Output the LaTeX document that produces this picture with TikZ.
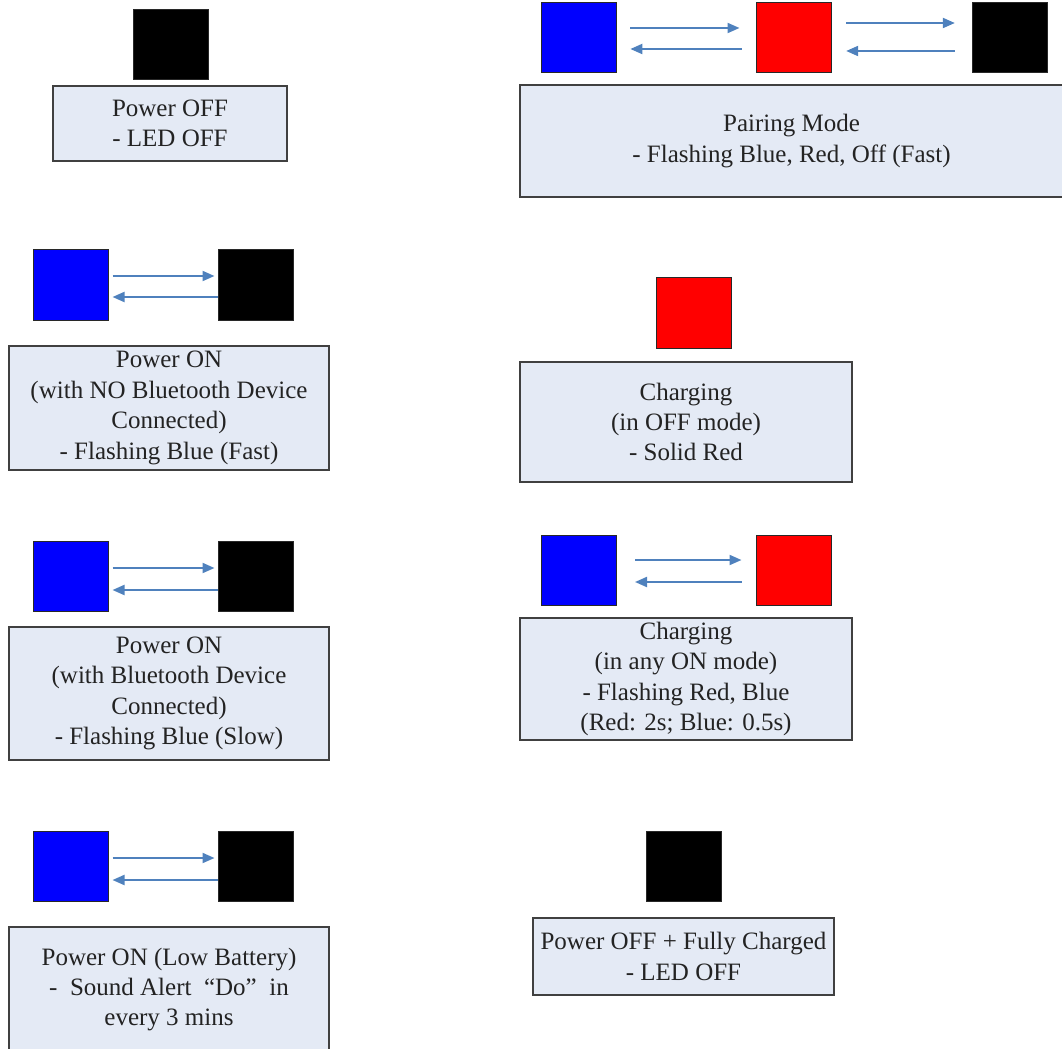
\documentclass[tikz,border=0pt]{standalone}
\usepackage{fontspec}
\setmainfont{Liberation Serif}
\usetikzlibrary{arrows.meta,calc}

\tikzset{
  led/.style={draw={rgb, 255:red, 40; green, 40; blue, 40}, line width=0.75pt, minimum width=56.25pt, minimum height=52.5pt, inner sep=0pt},
  statebox/.style={draw={rgb, 255:red, 64; green, 64; blue, 64}, line width=1.5pt, fill={rgb, 255:red, 228; green, 234; blue, 245}, align=center, inner sep=0pt, text={rgb, 255:red, 35; green, 35; blue, 35}, font=\fontsize{18.75pt}{22.8pt}\selectfont},
  blink/.style={draw={rgb, 255:red, 79; green, 129; blue, 189}, line width=1.5pt, -{Triangle[length=9pt,width=7.5pt]}},
}

\begin{document}
\begin{tikzpicture}[x=0.75pt,y=0.75pt,yscale=-1,xscale=1]
    \useasboundingbox (0,0) rectangle (1062,1048);

    %Shape: LED squares
    \node [led, fill=black] (k0) at (170.5,45) {};
    \node [led, fill=blue] (b1) at (579,38) {};
    \node [led, fill=red] (r1) at (793.5,38) {};
    \node [led, fill=black] (k1) at (1009.5,38) {};
    \node [led, fill=blue] (b2) at (70.5,285) {};
    \node [led, fill=black] (k2) at (255.5,285) {};
    \node [led, fill=red] (r2) at (693.5,313) {};
    \node [led, fill=blue] (b3) at (70.5,576) {};
    \node [led, fill=black] (k3) at (255.5,576) {};
    \node [led, fill=blue] (b4) at (579,570) {};
    \node [led, fill=red] (r4) at (793.5,570) {};
    \node [led, fill=blue] (b5) at (70.5,866) {};
    \node [led, fill=black] (k5) at (255.5,866) {};
    \node [led, fill=black] (k6) at (683.5,866) {};

    %Straight Lines: blinking
    \draw [blink, shorten <=10pt, shorten >=12pt] ($(b1.east)+(0,-10)$) -- ($(r1.west)+(0,-10)$);
    \draw [blink, shorten <=10.5pt, shorten >=10pt] ($(r1.west)+(0,11)$) -- ($(b1.east)+(0,11)$);
    \draw [blink, shorten <=11pt, shorten >=12.5pt] ($(r1.east)+(0,-15)$) -- ($(k1.west)+(0,-15)$);
    \draw [blink, shorten <=12.5pt, shorten >=11pt] ($(k1.west)+(0,13)$) -- ($(r1.east)+(0,13)$);
    \draw [blink, shorten <=3pt, shorten >=2.25pt] ($(b2.east)+(0,-9)$) -- ($(k2.west)+(0,-9)$);
    \draw [blink, shorten >=3pt] ($(k2.west)+(0,12)$) -- ($(b2.east)+(0,12)$);
    \draw [blink, shorten <=3pt, shorten >=2.25pt] ($(b3.east)+(0,-8)$) -- ($(k3.west)+(0,-8)$);
    \draw [blink, shorten >=3pt] ($(k3.west)+(0,14)$) -- ($(b3.east)+(0,14)$);
    \draw [blink, shorten <=13.5pt, shorten >=10.5pt] ($(b4.east)+(0,-10)$) -- ($(r4.west)+(0,-10)$);
    \draw [blink, shorten <=10.5pt, shorten >=13.5pt] ($(r4.west)+(0,12)$) -- ($(b4.east)+(0,12)$);
    \draw [blink, shorten <=3pt, shorten >=2.25pt] ($(b5.east)+(0,-8)$) -- ($(k5.west)+(0,-8)$);
    \draw [blink, shorten >=3pt] ($(k5.west)+(0,14)$) -- ($(b5.east)+(0,14)$);

    % Text Node
    \node [statebox, minimum width=175.5pt, minimum height=56.25pt] (off) at (170,123.5) {Power OFF\\- LED OFF};
    % Text Node
    \node [statebox, minimum width=407.25pt, minimum height=84pt] (pair) at (791.5,141) {Pairing Mode\\- Flashing Blue, Red, Off (Fast)};
    % Text Node
    \node [statebox, minimum width=240pt, minimum height=93pt] (nobt) at (169,408) {Power ON\\(with NO Bluetooth Device\\Connected)\\- Flashing Blue (Fast)};
    % Text Node
    \node [statebox, minimum width=249pt, minimum height=90pt] (chgoff) at (686,422) {Charging\\(in OFF mode)\\- Solid Red};
    % Text Node
    \node [statebox, minimum width=240pt, minimum height=99.75pt] (bt) at (169,693.5) {Power ON\\(with Bluetooth Device\\Connected)\\- Flashing Blue (Slow)};
    % Text Node
    \node [statebox, minimum width=249pt, minimum height=91.5pt] (chgon) at (686,679) {Charging\\(in any ON mode)\\- Flashing Red, Blue\\(Red: 2s; Blue: 0.5s)};
    % Text Node
    \node [statebox, minimum width=240pt, minimum height=93.75pt] (lowbat) at (169,989.5) {Power ON (Low Battery)\\- \ Sound Alert \ “Do” \ in\\every 3 mins};
    % Text Node
    \node [statebox, minimum width=225.75pt, minimum height=57.75pt] (full) at (683.5,956.5) {Power OFF + Fully Charged\\- LED OFF};

\end{tikzpicture}
\end{document}
